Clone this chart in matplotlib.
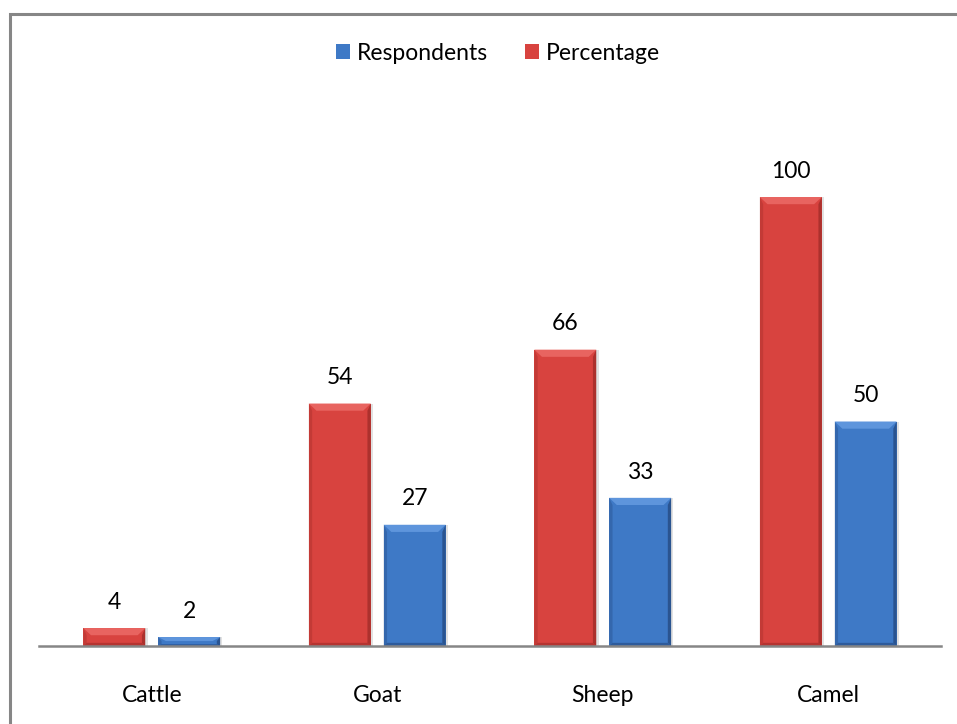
import matplotlib.pyplot as plt
from matplotlib.patches import Polygon, Rectangle

categories = ["Cattle", "Goat", "Sheep", "Camel"]
percentage = [4, 54, 66, 100]
respondents = [2, 27, 33, 50]

RED = "#D8433F"
RED_LIGHT = "#E86460"
RED_DARK = "#9E2B28"
BLUE = "#3E79C6"
BLUE_LIGHT = "#5E95DC"
BLUE_DARK = "#24487F"

plt.rcParams["font.family"] = ["Lato", "DejaVu Sans"]

fig = plt.figure(figsize=(9.57, 7.24), dpi=100)
fig.patch.set_facecolor("white")
ax = fig.add_axes([39 / 957, 78 / 724, 902 / 957, 538.8 / 724])

x = list(range(len(categories)))
w = 0.275
off = 0.166
red_bars = ax.bar([i - off for i in x], percentage, w, color=RED, label="Percentage", zorder=2)
blue_bars = ax.bar([i + off for i in x], respondents, w, color=BLUE, label="Respondents", zorder=2)


def bevel(bar, light, dark):
    # Excel-like bevel: chamfered light band on top, narrow dark edges on sides and bottom
    x0, y0 = bar.get_x(), bar.get_y()
    x1, y1 = x0 + bar.get_width(), y0 + bar.get_height()
    h = bar.get_height()
    bx = 0.015
    bxt = 0.034
    bt = min(1.6, h * 0.45)
    bb = min(0.7, h * 0.2)
    ax.add_patch(Rectangle((x1, y0), 0.01, h, color="#e2e2e2", lw=0, zorder=1))
    ax.add_patch(Polygon([(x1, y1), (x1, y0), (x1 - bx, y0 + bb), (x1 - bx, y1 - bt)],
                         closed=True, color=dark, lw=0, alpha=0.75, zorder=3))
    ax.add_patch(Polygon([(x0, y0), (x1, y0), (x1 - bx, y0 + bb), (x0 + bx, y0 + bb)],
                         closed=True, color=dark, lw=0, alpha=0.6, zorder=3))
    ax.add_patch(Polygon([(x0, y1), (x0, y0), (x0 + bx, y0 + bb), (x0 + bx, y1 - bt)],
                         closed=True, color=dark, lw=0, alpha=0.35, zorder=3))
    ax.add_patch(Polygon([(x0, y1), (x1, y1), (x1 - bxt, y1 - bt), (x0 + bxt, y1 - bt)],
                         closed=True, color=light, lw=0, zorder=4))


for b in red_bars:
    bevel(b, RED_LIGHT, RED_DARK)
for b in blue_bars:
    bevel(b, BLUE_LIGHT, BLUE_DARK)

for bars in (red_bars, blue_bars):
    for b in bars:
        ax.annotate(f"{b.get_height():g}", (b.get_x() + b.get_width() / 2, b.get_height()),
                    xytext=(0, 11), textcoords="offset points", ha="center", va="bottom",
                    fontsize=16.5, color="black")

ax.set_xlim(-0.5, 3.5)
ax.set_ylim(0, 120)
ax.set_xticks(x)
ax.set_xticklabels(categories, fontsize=16.5)
ax.tick_params(axis="x", length=0, pad=28)
ax.set_yticks([])
for s in ("top", "right", "left"):
    ax.spines[s].set_visible(False)
ax.spines["bottom"].set_color("#868686")
ax.spines["bottom"].set_linewidth(1.8)
ax.spines["bottom"].set_zorder(5)

fig.legend(handles=[blue_bars, red_bars], labels=["Respondents", "Percentage"],
           loc="center", bbox_to_anchor=(498 / 957, 1 - 53 / 724), ncol=2, frameon=False,
           fontsize=16.5, handlelength=0.6, handleheight=0.6, handletextpad=0.3, columnspacing=1.6)

# chart border (only top and left edges fall inside the image)
fig.add_artist(Rectangle((10 / 957, -0.05), 1.2, 1 - 13.5 / 724 + 0.05, transform=fig.transFigure,
                         fill=False, edgecolor="#868686", lw=2.2))

fig.savefig("out.png", dpi=100)
